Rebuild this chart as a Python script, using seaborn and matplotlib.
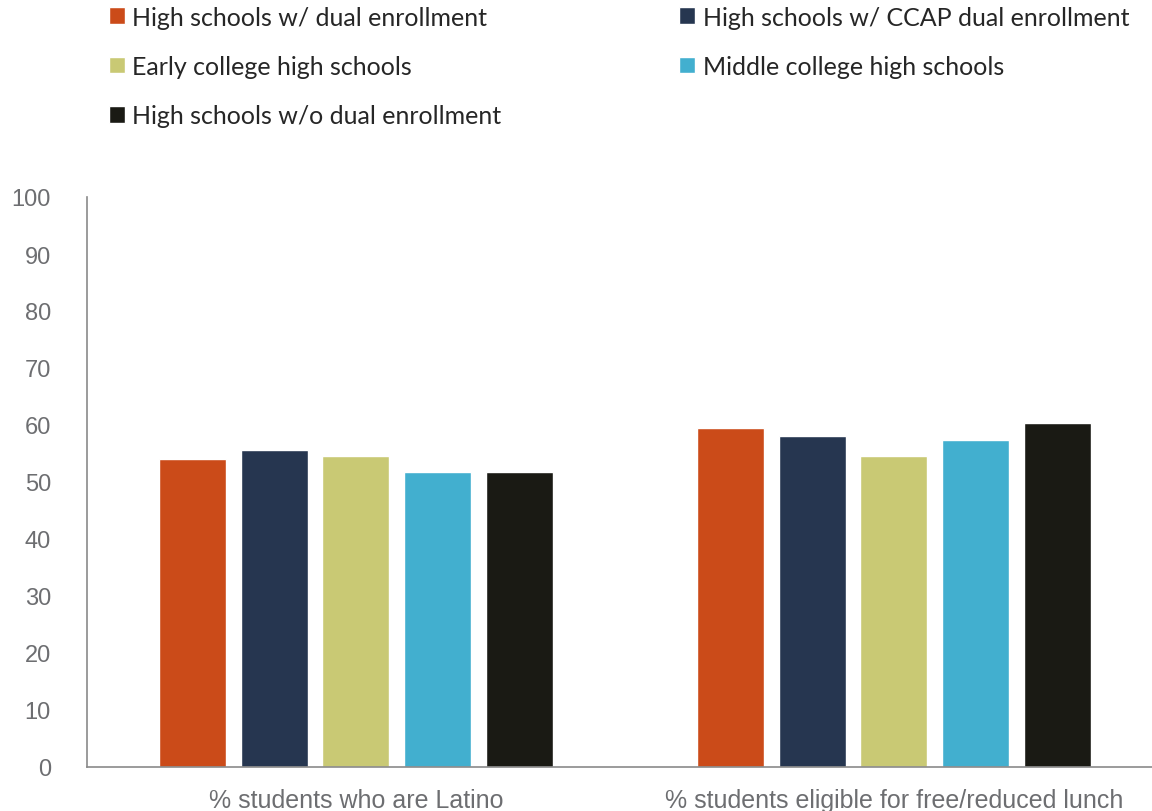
import matplotlib
matplotlib.use("Agg")
import matplotlib.pyplot as plt
import pandas as pd
import seaborn as sns

categories = ["% students who are Latino", "% students eligible for free/reduced lunch"]
series = [
    "High schools w/ dual enrollment",
    "High schools w/ CCAP dual enrollment",
    "Early college high schools",
    "Middle college high schools",
    "High schools w/o dual enrollment",
]
values = {
    "High schools w/ dual enrollment": [54.0, 59.5],
    "High schools w/ CCAP dual enrollment": [55.6, 58.1],
    "Early college high schools": [54.5, 54.6],
    "Middle college high schools": [51.7, 57.3],
    "High schools w/o dual enrollment": [51.8, 60.3],
}
colors = ["#CB4B19", "#263650", "#C9C974", "#42AFCF", "#1A1A14"]
y_ticks = list(range(0, 101, 10))

sns.set_theme(style="white")
plt.rcParams["font.family"] = ["Lato", "DejaVu Sans"]

rows = []
for s in series:
    for cat, v in zip(categories, values[s]):
        rows.append({"category": cat, "group": s, "value": v})
df = pd.DataFrame(rows)

fig = plt.figure(figsize=(11.52, 8.12), dpi=100)
ax = fig.add_axes([87 / 1152, (812 - 768) / 812, (1152 - 87) / 1152, (768 - 198) / 812])

sns.barplot(data=df, x="category", y="value", hue="group", hue_order=series,
            order=categories, palette=colors, width=0.76, gap=0.18,
            saturation=1, ax=ax, legend=True)

ax.set_ylim(0, 100)
ax.set_xlim(-0.5, 1.48)
ax.set_yticks(y_ticks)
ax.set_xlabel("")
ax.set_ylabel("")
ax.tick_params(axis="both", length=0, colors="#6d6e71")
ax.tick_params(axis="y", pad=26)
ax.tick_params(axis="x", pad=15)
for lab in ax.get_xticklabels():
    lab.set_family(["Liberation Sans Narrow", "Liberation Sans", "DejaVu Sans"])
    lab.set_fontsize(18)
for lab in ax.get_yticklabels():
    lab.set_family(["Liberation Sans", "DejaVu Sans"])
    lab.set_fontsize(17)
for side in ["top", "right"]:
    ax.spines[side].set_visible(False)
for side in ["left", "bottom"]:
    ax.spines[side].set_color("#8a8a8a")
    ax.spines[side].set_linewidth(1.2)

handles, labels = ax.get_legend_handles_labels()
ax.get_legend().remove()
order = [0, 2, 4, 1, 3]
fig.legend([handles[i] for i in order], [labels[i] for i in order],
           loc="upper left", bbox_to_anchor=(106 / 1152, 1.0 - 4 / 812), ncol=2,
           frameon=False, fontsize=18, handlelength=0.65, handleheight=0.65,
           handletextpad=0.3, columnspacing=7.1, labelspacing=1.05,
           borderaxespad=0.0, borderpad=0.1)

fig.savefig("out.png", dpi=100)
